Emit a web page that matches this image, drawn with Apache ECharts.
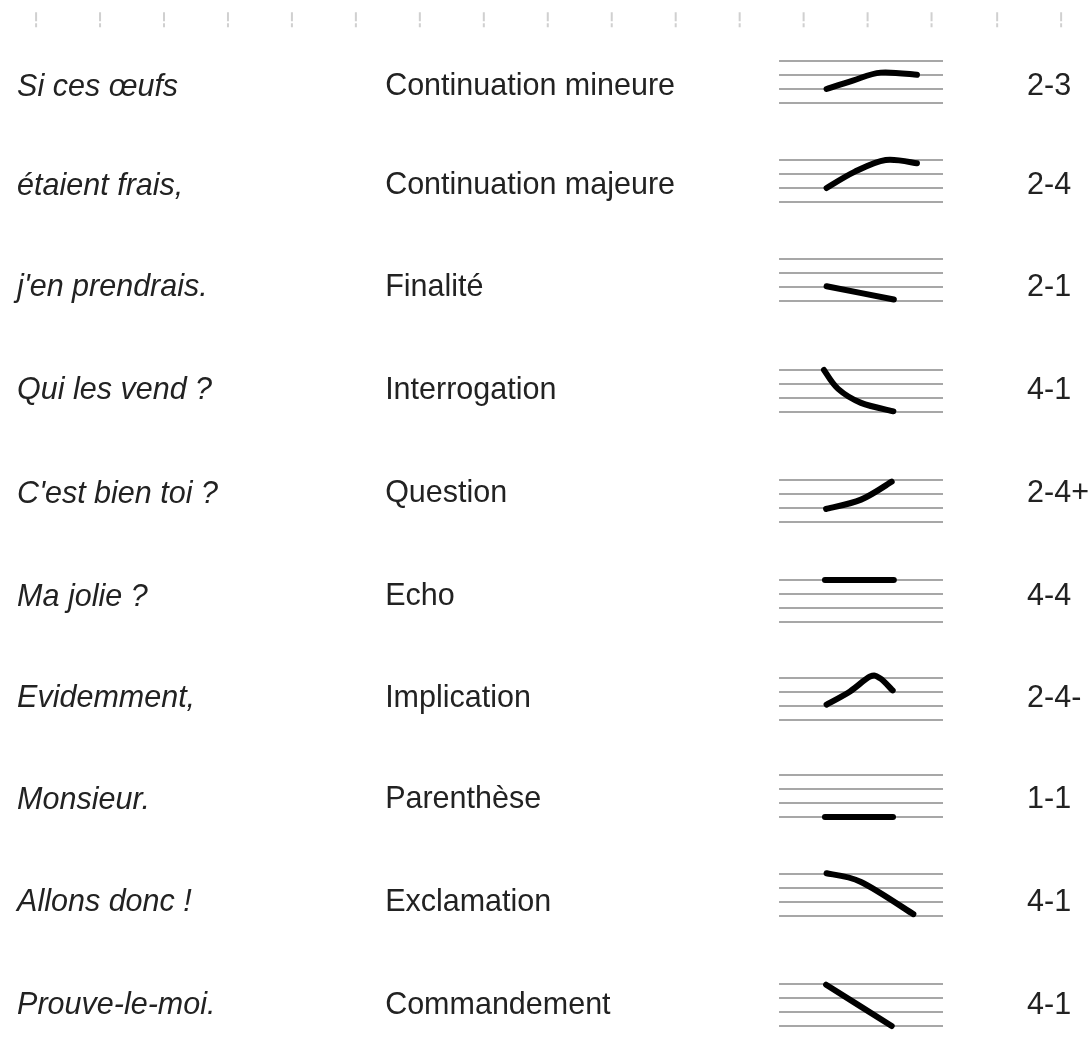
<!DOCTYPE html>
<html>
<head>
<meta charset="utf-8">
<script src="https://cdn.jsdelivr.net/npm/echarts@6/dist/echarts.min.js"></script>
<style>
  html, body { margin: 0; padding: 0; background: #fff; }
  #chart { width: 1089px; height: 1039px; }
</style>
</head>
<body>
<div id="chart"></div>
<script>
// phrase, intonation function and notation, one entry per row
const sentences = ['Si ces œufs', 'étaient frais,', "j'en prendrais.", 'Qui les vend ?', "C'est bien toi ?",
  'Ma jolie ?', 'Evidemment,', 'Monsieur.', 'Allons donc !', 'Prouve-le-moi.'];
const functions = ['Continuation mineure', 'Continuation majeure', 'Finalité', 'Interrogation', 'Question',
  'Echo', 'Implication', 'Parenthèse', 'Exclamation', 'Commandement'];
const notations = ['2-3', '2-4', '2-1', '4-1', '2-4+', '4-4', '2-4-', '1-1', '4-1', '4-1'];

// pitch contours: [time along the staff (0-10), level 1..4]
const contour0 = [[2.9, 2], [4.5, 2.6], [6.2, 3.17], [8.41, 3.02]];
const contour1 = [[2.9, 1.95], [4.6, 3.1], [6.5, 3.95], [8.41, 3.72]];
const contour2 = [[2.9, 2], [7.0, 1.05]];
const contour3 = [[2.74, 3.95], [3.6, 2.6], [5.0, 1.6], [6.97, 1.0]];
const contour4 = [[2.87, 1.93], [5.0, 2.6], [6.87, 3.88]];
const contour5 = [[2.8, 4], [7.0, 4]];
const contour6 = [[2.9, 2.05], [4.33, 2.99], [5.55, 4.05], [6.16, 3.93], [6.93, 3.06]];
const contour7 = [[2.8, 1], [6.95, 1]];
const contour8 = [[2.9, 4], [5.0, 3.38], [8.19, 1.08]];
const contour9 = [[2.87, 3.95], [6.87, 1.0]];
const contours = [contour0, contour1, contour2, contour3, contour4, contour5, contour6, contour7, contour8, contour9];

const levels = [1, 2, 3, 4];

// layout (axis units): top line of each staff, text row centres, column anchors, ruler marks
const staffBase = [0, 7.02, 14.09, 22.02, 29.93, 37.07, 44.02, 51.0, 58.02, 65.93];
const textRowY = [1.86, 8.93, 16.21, 23.57, 30.93, 38.29, 45.57, 52.79, 60.14, 67.5];
const colSentence = -46.46, colFunction = -24.02, colNotation = 15.12;
const rulerX = [-45.3, -41.4, -37.5, -33.6, -29.7, -25.8, -21.9, -18.0, -14.1, -10.2, -6.3, -2.4, 1.5, 5.4, 9.3, 13.3, 17.2];

const levelY = (row, lvl) => staffBase[row] + (4 - lvl);

const chart = echarts.init(document.getElementById('chart'));

const staffLines = [];
staffBase.forEach((b, r) => {
  levels.forEach(l => {
    staffLines.push({ coords: [[0, levelY(r, l)], [10, levelY(r, l)]] });
  });
});

const textSeries = (items, x, italic) => ({
  type: 'scatter',
  symbolSize: 0.1,
  itemStyle: { color: 'transparent' },
  silent: true,
  data: items.map((t, r) => ({ name: t, value: [x, textRowY[r]] })),
  label: {
    show: true,
    position: 'right',
    distance: 0,
    formatter: '{b}',
    fontFamily: '"Liberation Sans", Arial, sans-serif',
    fontSize: 30.5,
    fontStyle: italic ? 'italic' : 'normal',
    color: '#222',
    opacity: 1
  }
});

// smooth curve through the contour points (Catmull-Rom -> cubic bezier)
function contourPath(pts) {
  let d = 'M' + pts[0][0] + ',' + pts[0][1];
  for (let i = 0; i < pts.length - 1; i++) {
    const p0 = pts[i - 1] || pts[i];
    const p1 = pts[i];
    const p2 = pts[i + 1];
    const p3 = pts[i + 2] || pts[i + 1];
    const c1x = p1[0] + (p2[0] - p0[0]) / 6, c1y = p1[1] + (p2[1] - p0[1]) / 6;
    const c2x = p2[0] - (p3[0] - p1[0]) / 6, c2y = p2[1] - (p3[1] - p1[1]) / 6;
    d += 'C' + c1x + ',' + c1y + ',' + c2x + ',' + c2y + ',' + p2[0] + ',' + p2[1];
  }
  return d;
}

const series = [
  {
    type: 'lines',
    coordinateSystem: 'cartesian2d',
    silent: true,
    data: staffLines,
    lineStyle: { color: '#8a8a8a', width: 1.6, opacity: 1 }
  },
  {
    type: 'scatter',
    silent: true,
    symbol: 'path://M0,0H1V9H0ZM0,11H1V15H0Z',
    symbolSize: [2, 15],
    itemStyle: { color: '#c4c4c4' },
    data: rulerX.map(x => [x, -2.95])
  },
  textSeries(sentences, colSentence, true),
  textSeries(functions, colFunction, false),
  textSeries(notations, colNotation, false),
  {
    type: 'custom',
    silent: true,
    clip: false,
    data: contours.map((c, r) => [c[0][0], levelY(r, c[0][1]), r]),
    renderItem: (params, api) => {
      const r = api.value(2);
      const pts = contours[r].map(p => api.coord([p[0], levelY(r, p[1])]));
      return {
        type: 'path',
        shape: { pathData: contourPath(pts) },
        style: { fill: 'none', stroke: '#000', lineWidth: 6, lineCap: 'round', lineJoin: 'round' }
      };
    }
  }
];

chart.setOption({
  animation: false,
  backgroundColor: '#fff',
  grid: { left: 0, right: 0, top: 0, bottom: 0 },
  xAxis: { type: 'value', min: -47.5, max: 18.9, show: false },
  yAxis: { type: 'value', inverse: true, min: -4.357, max: 69.857, show: false },
  series: series
});
</script>
</body>
</html>
